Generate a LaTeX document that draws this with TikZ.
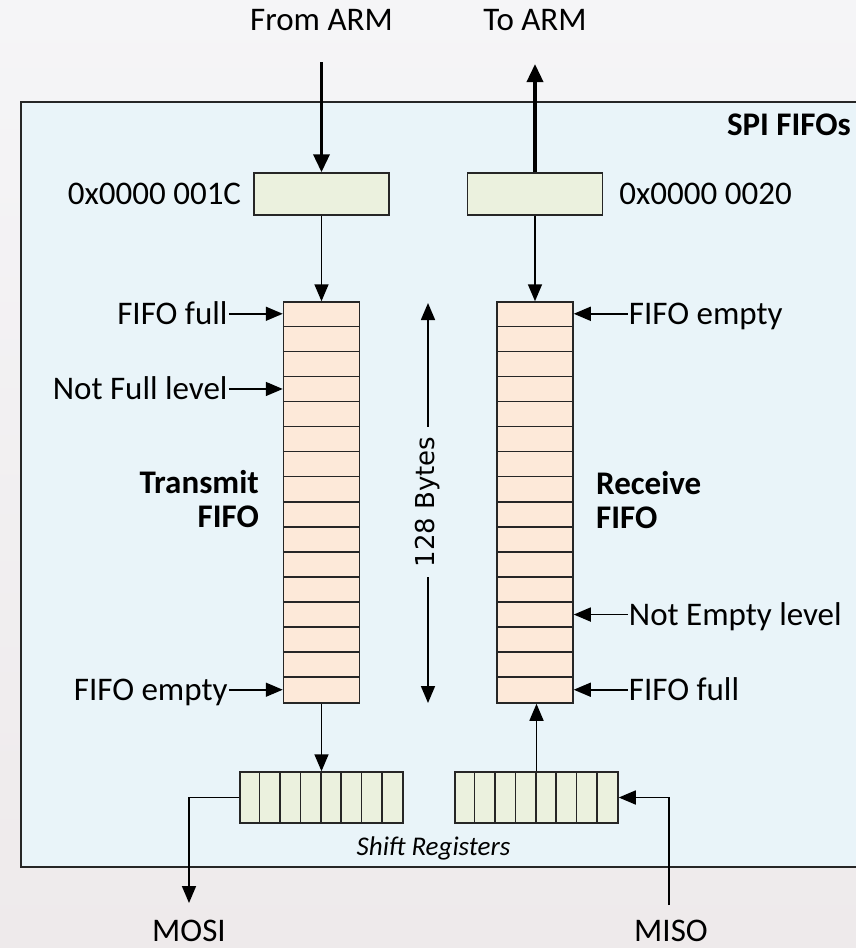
\documentclass[tikz,border=0pt]{standalone}
\usepackage{fontspec}
\setmainfont{Carlito}
\newfontfamily\dvs{DejaVu Sans}
\usetikzlibrary{arrows.meta,calc}
\definecolor{bgtop}{HTML}{F5F5F7}
\definecolor{bgbot}{HTML}{EEEAEB}
\definecolor{spibox}{HTML}{E9F4F9}
\definecolor{regfill}{HTML}{EBF1DE}
\definecolor{fifofill}{HTML}{FDE9D9}
\definecolor{edge}{HTML}{262626}
\begin{document}
\begin{tikzpicture}[x=1pt,y=-1pt,
  every node/.style={font=\fontsize{33}{34}\selectfont},
  boldtxt/.style={font=\fontsize{33}{34}\selectfont\bfseries},
  lbl/.style={inner sep=1pt},
  arr/.style={draw=black, line width=1.6pt, -{Triangle[length=17pt,width=14pt]}},
  dblarr/.style={draw=black, line width=1.6pt, {Triangle[length=17pt,width=14pt]}-{Triangle[length=17pt,width=14pt]}},
  bigarr/.style={draw=black, line width=3.6pt, -{Triangle[length=18pt,width=16pt]}},
  reg/.style={draw=edge, line width=1.5pt, fill=regfill, inner sep=0, minimum width=135pt, minimum height=42pt},
  fifo/.style={draw=edge, line width=1.5pt, fill=fifofill, inner sep=0, minimum width=76pt, minimum height=401pt},
  shreg/.style={draw=edge, line width=1.5pt, fill=regfill, inner sep=0, minimum width=163pt, minimum height=51pt},
  divline/.style={draw=edge, line width=1.5pt}]
\useasboundingbox (0,0) rectangle (856,948);
\shade[top color=bgtop, bottom color=bgbot] (0,0) rectangle (856,948);

% outer box
\node[draw=edge, line width=2pt, fill=spibox, inner sep=0, minimum width=880pt, minimum height=765pt, anchor=north west] (spi) at (19.5,101) {};
\node[boldtxt, anchor=base east, inner sep=0] (spit) at (851,135) {SPI FIFOs};

% top labels
\node[lbl, anchor=base] (from) at (321.5,30) {From ARM};
\node[lbl, anchor=base] (to) at (535,30) {To ARM};

% address registers
\node[reg] (txa) at (321.5,194) {};
\node[reg] (rxa) at (535,194) {};
\node[lbl, anchor=base east] (txal) at ($(txa.west)+(-11,10.5)$) {0x0000 001C};
\node[lbl, anchor=base west] (rxal) at ($(rxa.east)+(15,10.5)$) {0x0000 0020};

% FIFOs
\node[fifo] (txf) at (321.5,502.5) {};
\node[fifo] (rxf) at (535,502.5) {};
\foreach \i in {1,...,15} {
  \draw[divline] ($(txf.north west)+(0,\i*25.0625)$) -- ($(txf.north east)+(0,\i*25.0625)$);
  \draw[divline] ($(rxf.north west)+(0,\i*25.0625)$) -- ($(rxf.north east)+(0,\i*25.0625)$);
}

% shift registers
\node[shreg] (txs) at (321.5,797.5) {};
\node[shreg] (rxs) at (536.5,797.5) {};
\foreach \i in {1,...,7} {
  \draw[divline] ($(txs.north west)+(\i*20.375,0)$) -- ($(txs.south west)+(\i*20.375,0)$);
  \draw[divline] ($(rxs.north west)+(\i*20.375,0)$) -- ($(rxs.south west)+(\i*20.375,0)$);
}
\node[lbl, anchor=base, font=\fontsize{27}{30}\selectfont\itshape] (shl) at (433.5,855) {Shift Registers};

% FIFO names
\node[boldtxt, align=right, anchor=east, inner sep=0] (txn) at (259,499) {Transmit\\FIFO};
\node[boldtxt, align=left, anchor=west, inner sep=0] (rxn) at (596,500) {Receive\\FIFO};

% row coordinates
\coordinate (t0) at ($(txf.north west)+(0,12.53)$);
\coordinate (t3) at ($(txf.north west)+(0,3.5*25.0625)$);
\coordinate (t15) at ($(txf.north west)+(0,15.5*25.0625)$);
\coordinate (r0) at ($(rxf.north east)+(0,12.53)$);
\coordinate (r12) at ($(rxf.north east)+(0,12.5*25.0625)$);
\coordinate (r15) at ($(rxf.north east)+(0,15.5*25.0625)$);

% left labels
\node[lbl, anchor=base east] (lff) at ($(t0)+(-54,10.5)$) {FIFO full};
\node[lbl, anchor=base east] (lnf) at ($(t3)+(-54,10.5)$) {Not Full level};
\node[lbl, anchor=base east] (lfe) at ($(t15)+(-54,10.5)$) {FIFO empty};
\draw[arr] (lff.east |- t0) -- (t0);
\draw[arr] (lnf.east |- t3) -- (t3);
\draw[arr] (lfe.east |- t15) -- (t15);

% right labels
\node[lbl, anchor=base west] (rfe) at ($(r0)+(54,10.5)$) {FIFO empty};
\node[lbl, anchor=base west] (rne) at ($(r12)+(54,10.5)$) {Not Empty level};
\node[lbl, anchor=base west] (rff) at ($(r15)+(54,10.5)$) {FIFO full};
\draw[arr] (rfe.west |- r0) -- (r0);
\draw[arr] (rne.west |- r12) -- (r12);
\draw[arr] (rff.west |- r15) -- (r15);

% 128 bytes
\coordinate (b1) at (428,303);
\coordinate (b2) at (428,703);
\draw[dblarr] (b1) -- (b2);
\node[rotate=90, fill=spibox, inner xsep=10pt, inner ysep=2pt, font=\dvs\fontsize{26}{30}\selectfont] (bytes) at (428,502) {128 Bytes};

% main connectors
\coordinate (fa) at (321.5,62);
\coordinate (ta) at (535,64);
\draw[bigarr] (fa) -- (txa.north);
\draw[bigarr] (rxa.north) -- (ta);
\draw[arr] (txa.south) -- (txf.north);
\draw[arr] (rxa.south) -- (rxf.north);
\draw[arr] (txf.south) -- (txs.north);
\draw[arr] (rxs.north) -- (rxs.north |- rxf.south);

% MOSI / MISO
\coordinate (mo) at (189,903);
\coordinate (mi) at (669,905);
\draw[arr] (txs.west) -| (mo);
\draw[arr] (mi) |- (rxs.east);
\node[lbl, anchor=base] (mosi) at (189,941) {MOSI};
\node[lbl, anchor=base] (miso) at (671,941) {MISO};
\end{tikzpicture}
\end{document}
